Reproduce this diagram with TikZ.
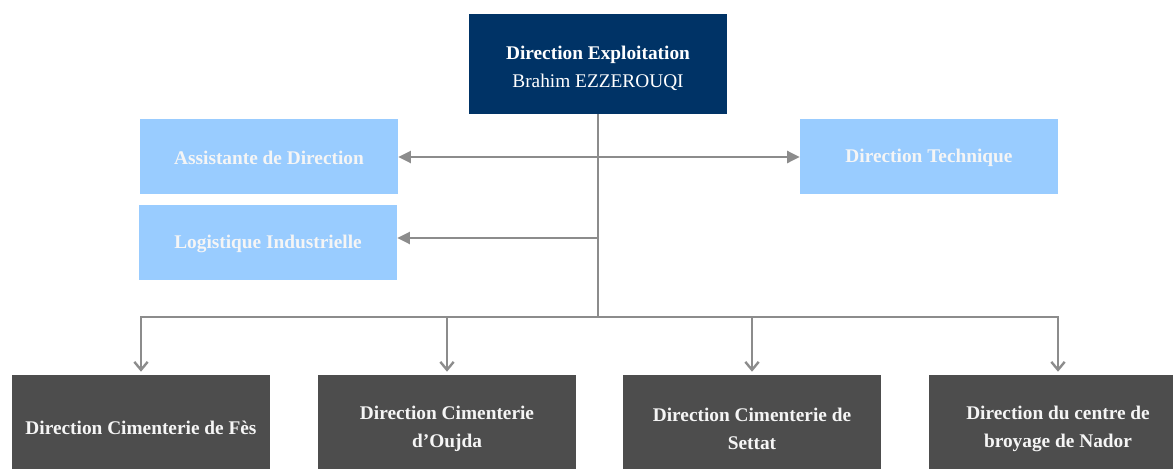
\documentclass[tikz,border=0pt]{standalone}
\usepackage{fontspec}
\setmainfont{Liberation Serif}
\usetikzlibrary{arrows.meta}
\definecolor{navy}{RGB}{0,51,102}
\definecolor{sky}{RGB}{153,204,255}
\definecolor{slate}{RGB}{77,77,77}
\definecolor{wire}{RGB}{140,140,140}
\definecolor{paletext}{RGB}{245,245,245}
\tikzset{
  box/.style={inner sep=0pt, align=center, minimum width=193.5pt,
    font=\fontsize{14.5}{20.5}\selectfont\bfseries},
  lift/.style={execute at begin node={\rule{0pt}{#1}}},
  headbox/.style={box, fill=navy, text=white, minimum height=75pt, lift=37pt},
  staffbox/.style={box, fill=sky, text=paletext, minimum height=56.25pt, lift=12pt},
  sitebox/.style={box, fill=slate, text=paletext, minimum height=75pt},
  wireline/.style={draw=wire, line width=1.8pt},
  fillhead/.style={wireline, -{Triangle[length=9.5pt,width=9pt]}},
  duohead/.style={wireline, {Triangle[length=9.5pt,width=9pt]}-{Triangle[length=9.5pt,width=9pt]}},
  openhead/.style={wireline, -{Straight Barb[length=6pt,width=10pt,line width=1.8pt]}}
}
\begin{document}
\begin{tikzpicture}[x=0.75pt,y=-0.75pt]
  \useasboundingbox (0,0) rectangle (1173,468);
  \clip (0,0) rectangle (1173,468);

  % head of the direction
  \node[headbox] (head) at (598,64)
    {Direction Exploitation\\{\mdseries Brahim EZZEROUQI}};

  % staff functions
  \node[staffbox] (asst) at (269,156.5) {Assistante de Direction};
  \node[staffbox] (tech) at (929,156.5) {Direction Technique};
  \node[staffbox] (logi) at (268,242.5) {Logistique Industrielle};

  % plants
  \node[sitebox, lift=14pt] (fes) at (141,425) {Direction Cimenterie de Fès};
  \node[sitebox, lift=36.5pt] (oujda) at (447,425)  {Direction Cimenterie\\d’Oujda};
  \node[sitebox, lift=36.5pt] (settat) at (752,425) {Direction Cimenterie de\\Settat};
  \node[sitebox, lift=36.5pt] (nador) at (1058,425) {Direction du centre de\\broyage de Nador};

  % junction points on the main trunk
  \coordinate (jasst) at (598,157);
  \coordinate (jlogi) at (598,238);
  \coordinate (hub)   at (598,317);

  % connectors
  \draw[wireline] (head.south) -- (hub);
  \draw[duohead] (asst.east |- jasst) -- (tech.west |- jasst);
  \draw[fillhead] (jlogi) -- (logi.east |- jlogi);
  \draw[openhead] (hub) -| ([yshift=2.25pt]fes.north);
  \draw[openhead] (hub) -| ([yshift=2.25pt]oujda.north);
  \draw[openhead] (hub) -| ([yshift=2.25pt]settat.north);
  \draw[openhead] (hub) -| ([yshift=2.25pt]nador.north);
\end{tikzpicture}
\end{document}
